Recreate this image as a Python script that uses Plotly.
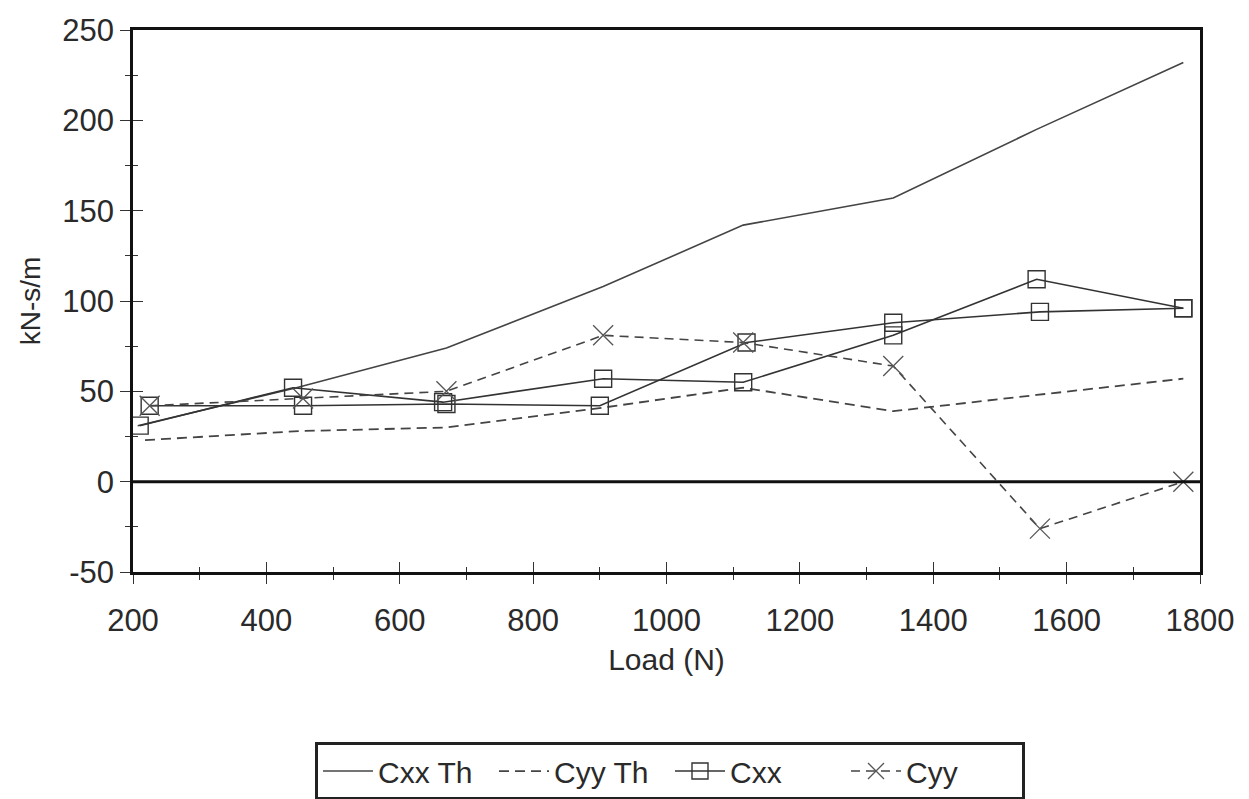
import plotly.graph_objects as go

# Data
load_th = [207, 445, 670, 905, 1115, 1340, 1555, 1775]
cxx_th = [31, 52, 74, 108, 142, 157, 195, 232]
load_cyy_th = [218, 450, 670, 905, 1115, 1340, 1555, 1775]
cyy_th = [23, 28, 30, 41, 52, 39, 48, 57]

load_cxx_a = [225, 455, 670, 900, 1120, 1340, 1560, 1775]
cxx_a = [42, 42, 43, 42, 77, 88, 94, 96]
load_cxx_b = [210, 440, 665, 905, 1115, 1340, 1555, 1775]
cxx_b = [31, 52, 44, 57, 55, 81, 112, 96]

load_cyy = [225, 455, 670, 905, 1115, 1340, 1560, 1775]
cyy = [42, 46, 50, 81, 77, 64, -26, 0]

x_ticks = [200, 400, 600, 800, 1000, 1200, 1400, 1600, 1800]
y_ticks = [-50, 0, 50, 100, 150, 200, 250]
y_tick_text = ["-50", "0", "50", "100", "150", "200", "250"]

FONT = "Liberation Sans, Arial, sans-serif"
ink = "#2a2a2a"

fig = go.Figure()
fig.add_trace(go.Scatter(x=load_th, y=cxx_th, mode="lines", name="Cxx Th",
                         line=dict(color="#444", width=1.6)))
fig.add_trace(go.Scatter(x=load_cyy_th, y=cyy_th, mode="lines", name="Cyy Th",
                         line=dict(color="#444", width=1.8, dash="10px,6px")))
fig.add_trace(go.Scatter(x=load_cxx_a, y=cxx_a, mode="lines+markers", name="Cxx",
                         line=dict(color="#333", width=1.6),
                         marker=dict(symbol="square-open", size=17, color="#333",
                                     line=dict(width=1.4))))
fig.add_trace(go.Scatter(x=load_cxx_b, y=cxx_b, mode="lines+markers", name="Cxx",
                         showlegend=False,
                         line=dict(color="#333", width=1.6),
                         marker=dict(symbol="square-open", size=17, color="#333",
                                     line=dict(width=1.4))))
fig.add_trace(go.Scatter(x=load_cyy, y=cyy, mode="lines+markers", name="Cyy",
                         line=dict(color="#444", width=1.6, dash="9px,6px"),
                         marker=dict(symbol="x-thin-open", size=20, color="#555",
                                     line=dict(width=1.3, color="#555"))))

# zero line
fig.add_shape(type="line", xref="x", yref="y", x0=200, x1=1800, y0=0, y1=0,
              line=dict(color="#111", width=3))

axis_common = dict(showgrid=False, zeroline=False, linecolor="#111", linewidth=2.5,
                   mirror=True, tickcolor="#333", tickwidth=1.2,
                   tickfont=dict(family=FONT, size=31, color=ink))

fig.update_layout(
    width=1249, height=799,
    margin=dict(l=133, r=49, t=30, b=227),
    paper_bgcolor="white", plot_bgcolor="white",
    font=dict(family=FONT, color=ink),
    xaxis=dict(range=[200, 1800], tickvals=x_ticks, ticks="outside", ticklen=9,
               ticklabelstandoff=10,
               minor=dict(dtick=100, tick0=200, ticks="outside", ticklen=5, tickcolor="#333"),
               title=dict(text="Load (N)", font=dict(family=FONT, size=30, color=ink), standoff=13),
               **axis_common),
    yaxis=dict(range=[-50, 250], tickvals=y_ticks, ticktext=y_tick_text,
               ticks="outside", ticklen=10,
               minor=dict(dtick=25, tick0=0, ticks="outside", ticklen=5, tickcolor="#333"),
               title=dict(text="kN-s/m", font=dict(family=FONT, size=28, color=ink), standoff=14),
               **axis_common),
    xaxis2=dict(range=[200, 1800], overlaying="x", tickvals=x_ticks, ticks="inside", ticklen=10,
                showticklabels=False, showgrid=False, zeroline=False, showline=False,
                tickcolor="#333", tickwidth=1.2,
                minor=dict(dtick=100, tick0=200, ticks="inside", ticklen=5, tickcolor="#333")),
    yaxis2=dict(range=[-50, 250], overlaying="y", tickvals=y_ticks, ticks="inside", ticklen=10,
                showticklabels=False, showgrid=False, zeroline=False, showline=False,
                tickcolor="#333", tickwidth=1.2,
                minor=dict(dtick=25, tick0=0, ticks="inside", ticklen=5, tickcolor="#333")),
    legend=dict(orientation="h", xref="container", yref="container",
                x=0.2522, xanchor="left", y=0.0713, yanchor="top",
                bordercolor="#222", borderwidth=3, bgcolor="white",
                font=dict(family=FONT, size=30, color=ink),
                itemwidth=50, entrywidthmode="pixels", entrywidth=111),
    showlegend=True,
)
# dummy trace to activate overlay axes
fig.add_trace(go.Scatter(x=[None], y=[None], xaxis="x2", yaxis="y2", showlegend=False,
                         hoverinfo="skip"))

fig.write_html("out.html")
